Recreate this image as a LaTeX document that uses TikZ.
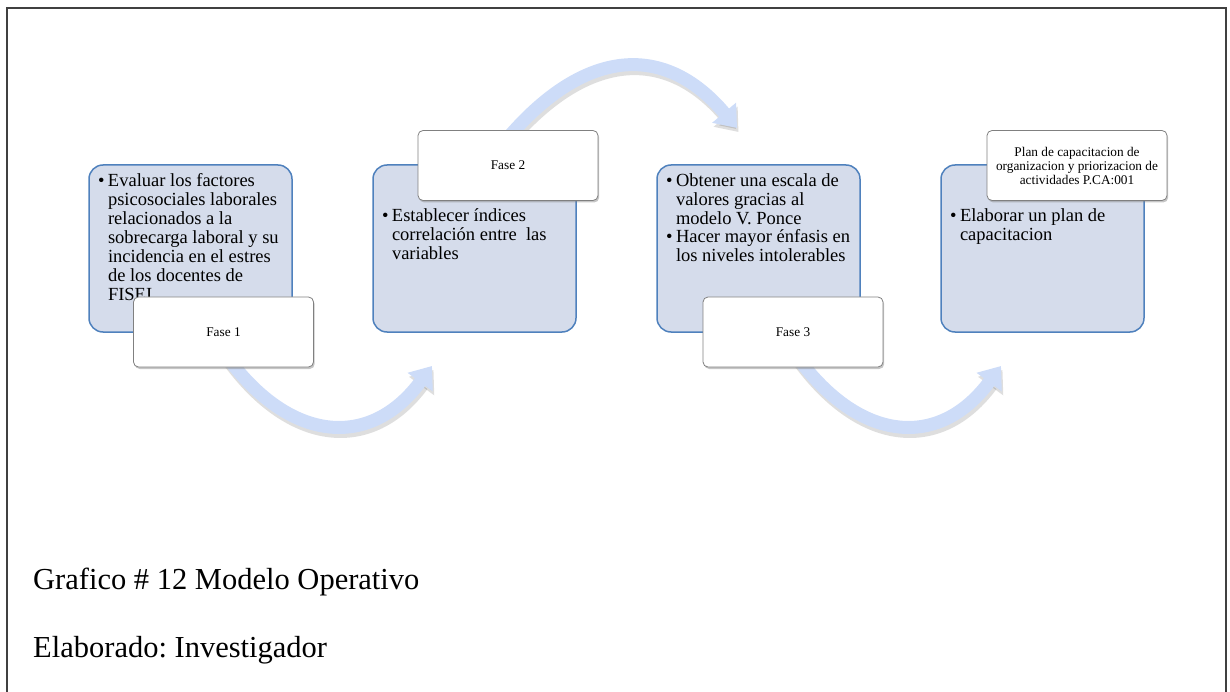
\documentclass[tikz,border=0pt]{standalone}
\usepackage{fontspec}
\setmainfont{Liberation Serif}
\usetikzlibrary{arrows.meta,shadows}
\frenchspacing

\definecolor{boxfill}{RGB}{213,220,235}
\definecolor{boxline}{RGB}{79,129,189}
\definecolor{flowblue}{RGB}{205,220,248}

\newcommand{\bul}[1]{\makebox[10pt][l]{\textbullet}\parbox[t]{178pt}{#1}}

\tikzset{
	phasebox/.style={rectangle, rounded corners=14pt, draw=boxline, fill=boxfill,
		line width=1.5pt, inner xsep=9pt, inner ysep=8.5pt,
		font=\fontsize{18.5}{19}\selectfont},
	tagbox/.style={rectangle, rounded corners=5pt, draw=black!50, fill=white,
		line width=0.8pt, minimum width=180pt, minimum height=70pt, align=center,
		font=\fontsize{13.3}{14}\selectfont,
		drop shadow={shadow xshift=1.2pt, shadow yshift=-2pt, opacity=.45}},
	flow/.style={draw=flowblue, line width=13pt, -{Triangle[width=30pt,length=20pt]}},
	flowshadow/.style={draw=black, opacity=.13, line width=13pt,
		-{Triangle[width=30pt,length=20pt]},
		transform canvas={shift={(1.5pt,-4pt)}}},
	caption/.style={anchor=base west, inner sep=0pt, font=\fontsize{30.5}{36}\selectfont}
}

\begin{document}
\begin{tikzpicture}[x=1pt,y=-1pt]
	\useasboundingbox (0,0) rectangle (1230,692);
	% frame
	\draw[line width=1.5pt, black!75] (7,692) -- (7,8) -- (1226,8) -- (1226,692);

	\coordinate (a1s) at (228,358);
	\coordinate (a1e) at (432,366);
	\coordinate (a2s) at (506,140);
	\coordinate (a2e) at (737,128);
	\coordinate (a3s) at (798,358);
	\coordinate (a3e) at (1001,366);

	% curved arrows
	\draw[flowshadow] (a1s) .. controls +(62,84) and +(-62,84) .. (a1e);
	\draw[flowshadow] (a2s) .. controls +(75,-89) and +(-75,-89) .. (a2e);
	\draw[flowshadow] (a3s) .. controls +(62,84) and +(-62,84) .. (a3e);
	\draw[flow] (a1s) .. controls +(62,84) and +(-62,84) .. (a1e);
	\draw[flow] (a2s) .. controls +(75,-89) and +(-75,-89) .. (a2e);
	\draw[flow] (a3s) .. controls +(62,84) and +(-62,84) .. (a3e);

	% phases
	\node[phasebox] (b1) at (190.5,248.5) {\parbox[t][150pt][t]{185pt}{%
		\bul{Evaluar los factores\\psicosociales laborales\\relacionados a la\\sobrecarga laboral y su\\incidencia en el estres\\de los docentes de\\FISEI}}};
	\node[phasebox] (b2) at (474.5,248.5) {\parbox[t][150pt][t]{185pt}{%
		\vspace*{35pt}\bul{Establecer índices\\correlación entre\ \ las\\variables}}};
	\node[phasebox] (b3) at (758.5,248.5) {\parbox[t][150pt][t]{185pt}{%
		\bul{Obtener una escala de\\valores gracias al\\modelo V. Ponce}\par\vspace{4pt}
		\bul{Hacer mayor énfasis en\\los niveles intolerables}}};
	\node[phasebox] (b4) at (1042.5,248.5) {\parbox[t][150pt][t]{185pt}{%
		\vspace*{35pt}\bul{Elaborar un plan de\\capacitacion}}};

	% labels
	\node[tagbox] (f1) at (223.5,332) {Fase 1};
	\node[tagbox] (f2) at (508,165.5) {Fase 2};
	\node[tagbox] (f3) at (793,332) {Fase 3};
	\node[tagbox] (f4) at (1077,165.5) {Plan de capacitacion de\\organizacion y priorizacion de\\actividades P.CA:001};

	\node[caption] (cap) at (33,589) {Grafico \# 12 Modelo Operativo};
	\node[caption] (aut) at (33,657) {Elaborado: Investigador};
\end{tikzpicture}
\end{document}
